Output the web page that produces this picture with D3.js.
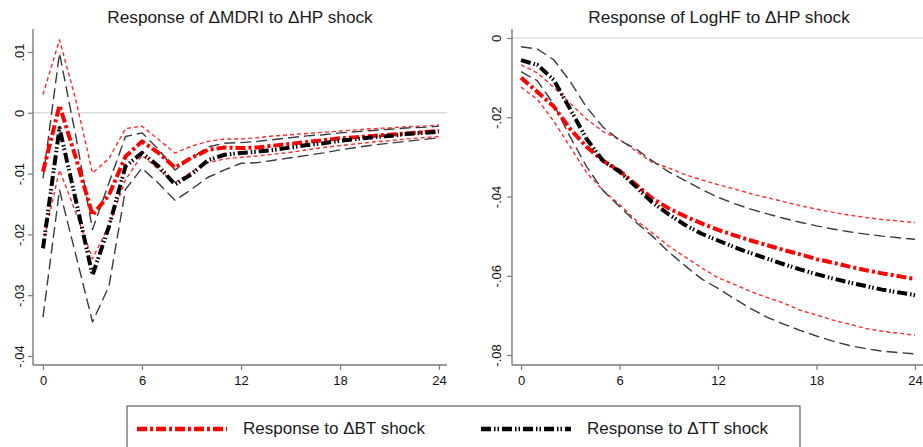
<!DOCTYPE html>
<html>
<head>
<meta charset="utf-8">
<script src="https://cdn.jsdelivr.net/npm/d3@7"></script>
<style>
    html, body { margin: 0; padding: 0; background: #fff; }
    svg { display: block; font-family: "Liberation Sans", Arial, Helvetica, sans-serif; }
</style>
</head>
<body>
<svg width="923" height="447"></svg>
<script>
// horizons (months)
const horizon = [0,1,2,3,4,5,6,7,8,9,10,11,12,13,14,15,16,17,18,19,20,21,22,23,24];
const xTicks = [0, 6, 12, 18, 24];

// left panel: response of dMDRI
const mdriBT   = [-0.0097, 0.0012, -0.0075, -0.0168, -0.0135, -0.0072, -0.0047, -0.0066, -0.0090, -0.0074, -0.0061, -0.0057, -0.0058, -0.0057, -0.0054, -0.0051, -0.0048, -0.0045, -0.0042, -0.0040, -0.0038, -0.0036, -0.0034, -0.0032, -0.0030];
const mdriBThi = [0.0030, 0.0120, 0.0020, -0.0099, -0.0075, -0.0026, -0.0022, -0.0044, -0.0066, -0.0055, -0.0047, -0.0043, -0.0043, -0.0041, -0.0038, -0.0036, -0.0034, -0.0032, -0.0030, -0.0028, -0.0026, -0.0025, -0.0023, -0.0022, -0.0020];
const mdriBTlo = [-0.0215, -0.0094, -0.0165, -0.0240, -0.0185, -0.0110, -0.0070, -0.0093, -0.0115, -0.0097, -0.0082, -0.0076, -0.0073, -0.0071, -0.0068, -0.0065, -0.0061, -0.0057, -0.0054, -0.0051, -0.0048, -0.0046, -0.0043, -0.0041, -0.0039];
const mdriTT   = [-0.0223, -0.0025, -0.0145, -0.0267, -0.0187, -0.0088, -0.0066, -0.0088, -0.0118, -0.0101, -0.0078, -0.0069, -0.0066, -0.0064, -0.0061, -0.0057, -0.0053, -0.0050, -0.0046, -0.0043, -0.0040, -0.0038, -0.0035, -0.0033, -0.0031];
const mdriTThi = [-0.0108, 0.0098, -0.0040, -0.0192, -0.0115, -0.0039, -0.0033, -0.0060, -0.0094, -0.0075, -0.0056, -0.0050, -0.0049, -0.0047, -0.0044, -0.0041, -0.0038, -0.0036, -0.0033, -0.0031, -0.0029, -0.0027, -0.0025, -0.0024, -0.0022];
const mdriTTlo = [-0.0336, -0.0127, -0.0235, -0.0344, -0.0285, -0.0126, -0.0091, -0.0116, -0.0144, -0.0126, -0.0106, -0.0094, -0.0083, -0.0082, -0.0078, -0.0074, -0.0070, -0.0066, -0.0061, -0.0057, -0.0053, -0.0050, -0.0047, -0.0044, -0.0041];
const mdriYTicks  = [0.01, 0, -0.01, -0.02, -0.03, -0.04];
const mdriYLabels = ['.01', '0', '-.01', '-.02', '-.03', '-.04'];

// right panel: response of LogHF
const hfBT   = [-0.0100, -0.0136, -0.0173, -0.0230, -0.0275, -0.0310, -0.0335, -0.0370, -0.0405, -0.0430, -0.0450, -0.0468, -0.0484, -0.0498, -0.0511, -0.0523, -0.0535, -0.0546, -0.0558, -0.0567, -0.0577, -0.0586, -0.0594, -0.0601, -0.0608];
const hfBThi = [-0.0068, -0.0088, -0.0125, -0.0165, -0.0205, -0.0236, -0.0256, -0.0285, -0.0314, -0.0328, -0.0345, -0.0358, -0.0370, -0.0381, -0.0393, -0.0403, -0.0413, -0.0423, -0.0432, -0.0440, -0.0447, -0.0453, -0.0458, -0.0462, -0.0466];
const hfBTlo = [-0.0124, -0.0155, -0.0210, -0.0275, -0.0340, -0.0385, -0.0420, -0.0460, -0.0492, -0.0525, -0.0553, -0.0580, -0.0605, -0.0622, -0.0640, -0.0655, -0.0669, -0.0687, -0.0699, -0.0712, -0.0722, -0.0733, -0.0740, -0.0745, -0.0750];
const hfTT   = [-0.0056, -0.0068, -0.0106, -0.0180, -0.0255, -0.0310, -0.0337, -0.0375, -0.0415, -0.0445, -0.0472, -0.0494, -0.0511, -0.0528, -0.0543, -0.0557, -0.0571, -0.0584, -0.0596, -0.0607, -0.0617, -0.0626, -0.0635, -0.0642, -0.0649];
const hfTThi = [-0.0022, -0.0028, -0.0055, -0.0110, -0.0175, -0.0225, -0.0258, -0.0280, -0.0310, -0.0338, -0.0360, -0.0382, -0.0402, -0.0418, -0.0432, -0.0444, -0.0455, -0.0465, -0.0474, -0.0482, -0.0489, -0.0495, -0.0500, -0.0504, -0.0508];
const hfTTlo = [-0.0085, -0.0108, -0.0168, -0.0250, -0.0325, -0.0385, -0.0425, -0.0465, -0.0500, -0.0540, -0.0575, -0.0608, -0.0632, -0.0658, -0.0683, -0.0705, -0.0722, -0.0738, -0.0752, -0.0765, -0.0776, -0.0784, -0.0790, -0.0794, -0.0797];
const hfYTicks  = [0, -0.02, -0.04, -0.06, -0.08];
const hfYLabels = ['0', '-.02', '-.04', '-.06', '-.08'];

const legendLabels = ['Response to \u0394BT shock', 'Response to \u0394TT shock'];

// line styles
const styles = {
    btCenter: { stroke: '#ff0000', width: 4, dash: '10,3,3,3' },
    btBand:   { stroke: '#ff2a2a', width: 1.4, dash: '4,3' },
    ttCenter: { stroke: '#000000', width: 4, dash: '10,3,1.5,2,1.5,3' },
    ttBand:   { stroke: '#3a3a3a', width: 1.4, dash: '11,5' },
};

const svg = d3.select('svg');
const axisColor = '#7a7a7a';

function drawPanel(p) {
    const x = d3.scaleLinear().domain([0, 24]).range([p.x0, p.x1]);
    const y = d3.scaleLinear().domain(p.yDomain).range(p.yRange);

    const g = svg.append('g');

    // zero line
    g.append('line')
        .attr('x1', p.axisX).attr('x2', p.axisEnd)
        .attr('y1', y(0)).attr('y2', y(0))
        .attr('stroke', '#dcdcdc').attr('stroke-width', 1.6);

    const line = d3.line()
        .x((d, i) => x(horizon[i]))
        .y(d => y(d));

    const series = [
        [p.btLo, styles.btBand], [p.btHi, styles.btBand],
        [p.ttLo, styles.ttBand], [p.ttHi, styles.ttBand],
        [p.bt, styles.btCenter], [p.tt, styles.ttCenter],
    ];
    series.forEach(([vals, s]) => {
        g.append('path')
            .datum(vals)
            .attr('d', line)
            .attr('fill', 'none')
            .attr('stroke', s.stroke)
            .attr('stroke-width', s.width)
            .attr('stroke-dasharray', s.dash)
            .attr('stroke-linejoin', 'round');
    });

    // axes
    const yAxis = d3.axisLeft(y).tickValues(p.yTicks).tickSize(5).tickSizeOuter(0)
        .tickFormat((d, i) => p.yLabels[i]);
    const gy = g.append('g')
        .attr('transform', 'translate(' + p.axisX + ',0)')
        .call(yAxis);
    gy.select('.domain').remove();
    gy.selectAll('.tick line').attr('stroke', axisColor).attr('stroke-width', 1.2);
    gy.selectAll('.tick text')
        .attr('x', null).attr('dy', null)
        .attr('fill', '#111')
        .attr('font-size', 13)
        .attr('text-anchor', 'middle')
        .attr('transform', 'translate(' + (-p.yLabelGap) + ',0) rotate(-90)');

    const xAxis = d3.axisBottom(x).tickValues(xTicks).tickSize(5).tickSizeOuter(0);
    const gx = g.append('g')
        .attr('transform', 'translate(0,' + p.axisY + ')')
        .call(xAxis);
    gx.select('.domain').remove();
    gx.selectAll('.tick line').attr('stroke', axisColor).attr('stroke-width', 1.2);
    gx.selectAll('.tick text')
        .attr('y', 20).attr('dy', null)
        .attr('fill', '#111')
        .attr('font-size', 13);

    g.append('line')
        .attr('x1', p.axisX).attr('x2', p.axisX)
        .attr('y1', p.axisTop).attr('y2', p.axisY)
        .attr('stroke', axisColor).attr('stroke-width', 1.4);
    g.append('line')
        .attr('x1', p.axisX).attr('x2', p.axisEnd)
        .attr('y1', p.axisY).attr('y2', p.axisY)
        .attr('stroke', axisColor).attr('stroke-width', 1.4);

    g.append('text')
        .attr('x', p.titleX).attr('y', 23)
        .attr('text-anchor', 'middle')
        .attr('font-size', 17.2)
        .attr('fill', '#1a1a1a')
        .text(p.title);
}

drawPanel({
    title: 'Response of \u0394MDRI to \u0394HP shock', titleX: 240,
    x0: 43, x1: 439, yDomain: [-0.04, 0.01], yRange: [356, 52],
    axisX: 33, axisEnd: 447, axisTop: 29, axisY: 365, yLabelGap: 9,
    yTicks: mdriYTicks, yLabels: mdriYLabels,
    bt: mdriBT, btLo: mdriBTlo, btHi: mdriBThi,
    tt: mdriTT, ttLo: mdriTTlo, ttHi: mdriTThi,
});

drawPanel({
    title: 'Response of LogHF to \u0394HP shock', titleX: 719,
    x0: 521, x1: 915, yDomain: [-0.08, 0], yRange: [355, 38],
    axisX: 512, axisEnd: 930, axisTop: 29, axisY: 365, yLabelGap: 11,
    yTicks: hfYTicks, yLabels: hfYLabels,
    bt: hfBT, btLo: hfBTlo, btHi: hfBThi,
    tt: hfTT, ttLo: hfTTlo, ttHi: hfTThi,
});

// legend
const leg = svg.append('g');
leg.append('rect')
    .attr('x', 127).attr('y', 406)
    .attr('width', 673).attr('height', 60)
    .attr('fill', 'none').attr('stroke', '#606060').attr('stroke-width', 1.2);

const keys = [
    { x: 137, tx: 243, s: styles.btCenter },
    { x: 481, tx: 587, s: styles.ttCenter },
];
keys.forEach((k, i) => {
    leg.append('line')
        .attr('x1', k.x).attr('x2', k.x + 90)
        .attr('y1', 429).attr('y2', 429)
        .attr('stroke', k.s.stroke)
        .attr('stroke-width', 4.4)
        .attr('stroke-dasharray', k.s.dash);
    leg.append('text')
        .attr('x', k.tx).attr('y', 434)
        .attr('font-size', 17)
        .attr('fill', '#1a1a1a')
        .text(legendLabels[i]);
});
</script>
</body>
</html>
